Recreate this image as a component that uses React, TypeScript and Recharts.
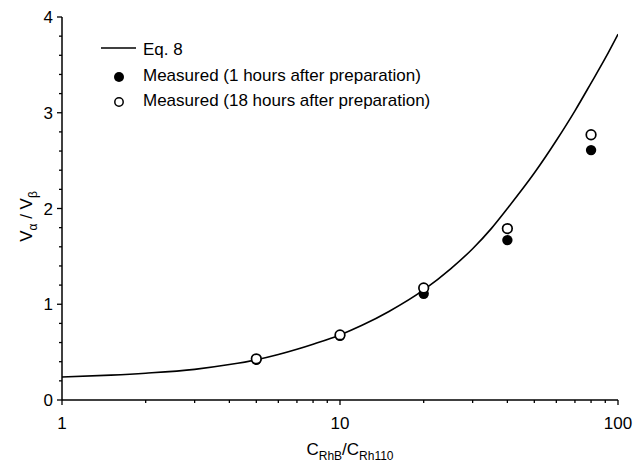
import React from 'react';
import { ComposedChart, Line, Scatter, XAxis, YAxis, Legend } from 'recharts';

// Eq. 8 curve
const curveX = [1, 1.5, 2, 3, 4, 5, 6, 7, 8, 10, 12, 15, 20, 25, 30, 35, 40, 50, 60, 70, 80, 90, 100];
const curveY = [0.24, 0.26, 0.28, 0.32, 0.37, 0.42, 0.475, 0.53, 0.583, 0.68, 0.78, 0.925, 1.15, 1.37, 1.58, 1.79, 2.0, 2.37, 2.71, 3.02, 3.31, 3.57, 3.82];

// Measured points
const ratioX = [5, 10, 20, 40, 80];
const measured1h = [0.42, 0.67, 1.11, 1.67, 2.61];
const measured18h = [0.43, 0.68, 1.17, 1.79, 2.77];

// Ticks
const xTicks = [1, 2, 3, 4, 5, 6, 7, 8, 9, 10, 20, 30, 40, 50, 60, 70, 80, 90, 100];
const xTickLabels = [1, 10, 100];
const yTicks = [0, 0.2, 0.4, 0.6, 0.8, 1, 1.2, 1.4, 1.6, 1.8, 2, 2.2, 2.4, 2.6, 2.8, 3, 3.2, 3.4, 3.6, 3.8, 4];
const yTickLabels = [0, 1, 2, 3, 4];

const legendLabels = ['Eq. 8', 'Measured (1 hours after preparation)', 'Measured (18 hours after preparation)'];

const curveData = curveX.map((x, i) => ({ x, y: curveY[i] }));
const data1h = ratioX.map((x, i) => ({ x, y: measured1h[i] }));
const data18h = ratioX.map((x, i) => ({ x, y: measured18h[i] }));

const FONT = '"Liberation Sans", Arial, sans-serif';
const FS = 17;

const XTick = (props: any) => {
  const { x, y, payload } = props;
  const v = payload.value;
  const major = xTickLabels.includes(v);
  return (
    <g>
      <line x1={x} x2={x} y1={y} y2={y + (major ? 5 : 3)} stroke="#000" strokeWidth={1.3} />
      {major && (
        <text x={x} y={y + 29} textAnchor="middle" fontFamily={FONT} fontSize={FS} fill="#000">
          {v}
        </text>
      )}
    </g>
  );
};

const YTick = (props: any) => {
  const { x, y, payload } = props;
  const v = payload.value;
  const major = yTickLabels.some((t) => Math.abs(t - v) < 1e-6);
  return (
    <g>
      <line x1={x} x2={x - (major ? 5 : 3)} y1={y} y2={y} stroke="#000" strokeWidth={1.3} />
      {major && (
        <text x={x - 9} y={y + 6} textAnchor="end" fontFamily={FONT} fontSize={FS} fill="#000">
          {v}
        </text>
      )}
    </g>
  );
};

const XTitle = (props: any) => {
  const vb = props.viewBox;
  const cx = vb.x + vb.width / 2 + 10;
  const cy = vb.y + 55;
  return (
    <text x={cx} y={cy} textAnchor="middle" fontFamily={FONT} fontSize={FS} fill="#000">
      C<tspan dy={5} fontSize={12}>RhB</tspan>
      <tspan dy={-5}>/C</tspan>
      <tspan dy={5} fontSize={12}>Rh110</tspan>
    </text>
  );
};

const YTitle = (props: any) => {
  const vb = props.viewBox;
  const cx = 32;
  const cy = vb.y + vb.height / 2 + 8;
  return (
    <text
      x={cx}
      y={cy}
      transform={`rotate(-90, ${cx}, ${cy})`}
      textAnchor="middle"
      fontFamily={FONT}
      fontSize={FS}
      fill="#000"
    >
      V<tspan dy={5} fontSize={12}>α</tspan>
      <tspan dy={-5}> / V</tspan>
      <tspan dy={5} fontSize={12}>β</tspan>
    </text>
  );
};

const FilledDot = (props: any) => <circle cx={props.cx} cy={props.cy} r={5.2} fill="#000" />;
const OpenDot = (props: any) => (
  <circle cx={props.cx} cy={props.cy} r={4.8} fill="#fff" stroke="#000" strokeWidth={1.7} />
);

const LegendContent = () => (
  <svg width={420} height={80} style={{ display: 'block' }}>
    <line x1={6} x2={41} y1={13} y2={13} stroke="#000" strokeWidth={1.6} />
    <text x={48} y={20} fontFamily={FONT} fontSize={FS} fill="#000">{legendLabels[0]}</text>
    <circle cx={24} cy={42} r={5} fill="#000" />
    <text x={48} y={46} fontFamily={FONT} fontSize={FS} fill="#000">{legendLabels[1]}</text>
    <circle cx={24} cy={67} r={4.2} fill="#fff" stroke="#000" strokeWidth={1.5} />
    <text x={48} y={71} fontFamily={FONT} fontSize={FS} fill="#000">{legendLabels[2]}</text>
  </svg>
);

export default function App() {
  return (
    <div style={{ position: 'absolute', left: 0, top: 0, background: '#fff' }}>
      <ComposedChart width={641} height={469} margin={{ top: 17, right: 23, left: 0, bottom: 0 }}>
        <XAxis
          dataKey="x"
          type="number"
          scale="log"
          domain={[1, 100]}
          allowDataOverflow
          ticks={xTicks}
          interval={0}
          tickLine={false}
          tickSize={0}
          tickMargin={0}
          tick={<XTick />}
          axisLine={{ stroke: '#000', strokeWidth: 1.5 }}
          height={69}
          label={<XTitle />}
        />
        <XAxis
          xAxisId="top"
          orientation="top"
          dataKey="x"
          type="number"
          scale="log"
          domain={[1, 100]}
          allowDataOverflow
          tick={false}
          tickLine={false}
          axisLine={{ stroke: '#000', strokeWidth: 1.5 }}
          height={0}
        />
        <YAxis
          type="number"
          domain={[0, 4]}
          allowDataOverflow
          ticks={yTicks}
          interval={0}
          tickLine={false}
          tickSize={0}
          tickMargin={0}
          tick={<YTick />}
          axisLine={{ stroke: '#000', strokeWidth: 1.5 }}
          width={62}
          label={<YTitle />}
        />
        <YAxis
          yAxisId="right"
          orientation="right"
          type="number"
          domain={[0, 4]}
          tick={false}
          tickLine={false}
          axisLine={{ stroke: '#000', strokeWidth: 1.5 }}
          width={0}
        />
        <Legend
          layout="vertical"
          align="center"
          verticalAlign="middle"
          wrapperStyle={{ top: 35, left: 95, width: 420, height: 80 }}
          content={<LegendContent />}
        />
        <Line
          data={curveData}
          dataKey="y"
          type="monotone"
          stroke="#000"
          strokeWidth={1.6}
          dot={false}
          activeDot={false}
          isAnimationActive={false}
          name={legendLabels[0]}
        />
        <Scatter data={data1h} dataKey="y" shape={<FilledDot />} isAnimationActive={false} name={legendLabels[1]} />
        <Scatter data={data18h} dataKey="y" shape={<OpenDot />} isAnimationActive={false} name={legendLabels[2]} />
      </ComposedChart>
    </div>
  );
}
